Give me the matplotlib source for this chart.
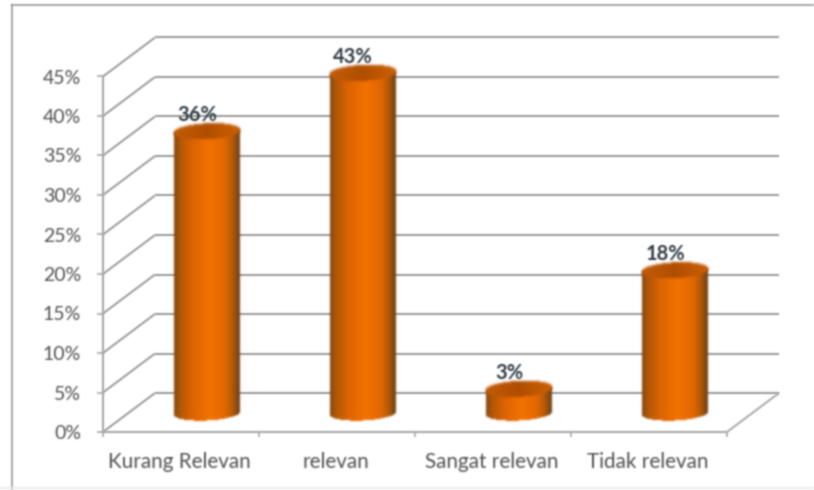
import numpy as np
import matplotlib
matplotlib.use("Agg")
import matplotlib.pyplot as plt
from matplotlib.collections import PolyCollection
from matplotlib.lines import Line2D
from matplotlib.transforms import Affine2D
from matplotlib.colors import LinearSegmentedColormap

categories = ["Kurang Relevan", "relevan", "Sangat relevan", "Tidak relevan"]
values = [35.6, 43, 3, 18]
value_labels = ["36%", "43%", "3%", "18%"]
y_ticks = [0, 5, 10, 15, 20, 25, 30, 35, 40, 45]
y_tick_labels = [f"{v}%" for v in y_ticks]

W, H = 814, 490
plt.rcParams["font.family"] = ["Lato", "DejaVu Sans"]
fig = plt.figure(figsize=(W / 100, H / 100), dpi=100, facecolor="white")

LEFT, RIGHT, BASE, TOP = 103, 727, 432, 76.5
ax = fig.add_axes([LEFT / W, (H - BASE) / H, (RIGHT - LEFT) / W, (BASE - TOP) / H])
ax.set_xlim(0, 4)
ax.set_ylim(0, 45)
ax.axis("off")

DX, DY = 52, 39          # depth of the 3-D box, pixels
back = ax.transData + Affine2D().translate(DX, DY)
mid = ax.transData + Affine2D().translate(DX / 2, DY / 2)
GRID = "#999999"
AXIS = "#a8a8a8"
TXT = "#505050"


def blur(sigma):
    pad = int(3 * sigma) + 1
    k = np.exp(-0.5 * (np.arange(-pad, pad + 1) / sigma) ** 2)
    k /= k.sum()

    def f(img, dpi):
        a = np.pad(img, ((pad, pad), (pad, pad), (0, 0)))
        rgb = a[..., :3] * a[..., 3:4]
        p = np.dstack([rgb, a[..., 3]])
        for axis in (0, 1):
            p = np.apply_along_axis(lambda m: np.convolve(m, k, mode="same"), axis, p)
        al = np.clip(p[..., 3:4], 1e-4, 1)
        out = np.dstack([np.clip(p[..., :3] / al, 0, 1), p[..., 3]])
        return out, -pad, -pad
    return f


SOFT = blur(0.8)
TEXT_SOFT = blur(0.85)


def line(xs, ys, tr, color=GRID, lw=1.4, z=1):
    l = Line2D(xs, ys, transform=tr, color=color, lw=lw, zorder=z, clip_on=False,
               solid_capstyle="butt")
    l.set_agg_filter(SOFT)
    ax.add_line(l)
    return l


def pixel_line(p0, p1, color=GRID, lw=1.4, z=1):
    return line([p0[0], p1[0]], [p0[1], p1[1]], Affine2D(), color, lw, z)


# outer chart frame, in figure fractions
for xs, ys, c in [([11.5, 11.5], [5, 490], "#a0a0a0"), ([11.5, 814], [5, 5], "#a0a0a0"),
                  ([0, 814], [488, 488], "#ececec")]:
    fr = Line2D(np.array(xs) / W, 1 - np.array(ys) / H, transform=fig.transFigure, color=c, lw=1.3)
    fr.set_agg_filter(SOFT)
    fig.add_artist(fr)

# grid: back wall + side wall
for v, lab in zip(y_ticks, y_tick_labels):
    line([0, 4], [v, v], back, z=1)
    p0 = ax.transData.transform((0, v))
    p1 = back.transform((0, v))
    pixel_line(p0, p1)
    pixel_line((p0[0] - 6, p0[1]), p0, AXIS, 1.2, 2)
    t = ax.text(0, v, lab, transform=ax.transData + Affine2D().translate(-22, 0), ha="right",
                va="center_baseline", fontsize=14, color=TXT, clip_on=False)
    t.set_agg_filter(TEXT_SOFT)

# floor right edge
pixel_line(ax.transData.transform((4, 0)), back.transform((4, 0)), AXIS)

# axes
line([0, 0], [0, 45], ax.transData, color=AXIS, lw=1.5, z=2)
line([0, 4], [0, 0], ax.transData, color=AXIS, lw=1.5, z=2)
for i in range(5):
    b = ax.transData.transform((i, 0))
    pixel_line(b, (b[0], b[1] - 5), AXIS, 1.2, 2)

for i, c in enumerate(categories):
    t = ax.text(i + 0.5, 0, c, transform=ax.transData + Affine2D().translate(-1.5, -36), ha="center",
                va="baseline", fontsize=14.9, color=TXT, clip_on=False)
    t.set_agg_filter(TEXT_SOFT)

# cylinders
cmap = LinearSegmentedColormap.from_list(
    "cyl", [(0, "#84460f"), (0.08, "#ad5608"), (0.25, "#d96203"), (0.55, "#f47200"),
            (0.8, "#e06702"), (0.93, "#a65409"), (1, "#734318")])
cmap_top = LinearSegmentedColormap.from_list(
    "top", [(0, "#c45c08"), (0.5, "#b04e00"), (1, "#cc6004")])

HALF = 0.2115            # half cylinder width, category units
EH = 0.95                # ellipse half height, value units
TILT = 0.2               # slope of the ellipse, value units at the rim
N = 60
edges = np.linspace(-1, 1, N + 1)


def strip(t0, t1, lo0, lo1, hi0, hi1, cx):
    return [(cx + HALF * t0, lo0), (cx + HALF * t1, lo1), (cx + HALF * t1, hi1), (cx + HALF * t0, hi0)]


for i, v in enumerate(values):
    cx = i + 0.5
    polys, cols, polys_t, cols_t = [], [], [], []
    for j in range(N):
        t0, t1 = edges[j], edges[j + 1]
        a0, a1 = np.sqrt(1 - t0 * t0), np.sqrt(1 - t1 * t1)
        polys.append(strip(t0, t1, -EH * a0 + TILT * t0, -EH * a1 + TILT * t1,
                           v + TILT * t0, v + TILT * t1, cx))
        cols.append(cmap(j / (N - 1)))
        polys_t.append(strip(t0, t1, v - EH * a0 + TILT * t0, v - EH * a1 + TILT * t1,
                             v + EH * a0 + TILT * t0, v + EH * a1 + TILT * t1, cx))
        cols_t.append(cmap_top(j / (N - 1)))
    pc = PolyCollection(polys, facecolors=cols, edgecolors="none", transform=mid,
                        zorder=3 + i, antialiaseds=False, clip_on=False)
    pc.set_agg_filter(blur(0.8))
    ax.add_collection(pc)
    pt = PolyCollection(polys_t, facecolors=cols_t, edgecolors="none", transform=mid,
                        zorder=3.5 + i, antialiaseds=False, clip_on=False)
    pt.set_agg_filter(blur(1.0))
    ax.add_collection(pt)
    lt = ax.text(cx, v, value_labels[i], transform=mid + Affine2D().translate(-10, 16), ha="center",
                 va="center", fontsize=14.5, fontweight="bold", color="#2f3a44", zorder=10, clip_on=False)
    lt.set_agg_filter(TEXT_SOFT)

fig.savefig("out.png", dpi=100, facecolor="white")
